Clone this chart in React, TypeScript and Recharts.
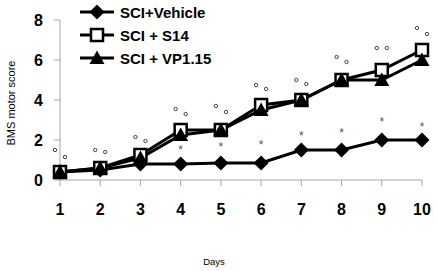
import React from 'react';
import { ComposedChart, Line, Scatter, XAxis, YAxis } from 'recharts';

const days = [1, 2, 3, 4, 5, 6, 7, 8, 9, 10];
const vehicle = [0.4, 0.5, 0.8, 0.8, 0.85, 0.85, 1.5, 1.5, 2.0, 2.0];
const s14 = [0.4, 0.6, 1.25, 2.5, 2.5, 3.75, 4.0, 5.0, 5.5, 6.5];
const vp115 = [0.4, 0.6, 1.1, 2.25, 2.5, 3.5, 4.0, 5.0, 5.0, 6.0];
const circA = [1.5, 1.5, 2.15, 3.55, 3.7, 4.75, 5.0, 6.15, 6.6, 7.6];
const circB = [1.15, 1.4, 1.95, 3.3, 3.4, 4.55, 4.8, 5.9, 6.6, 7.3];
const stars: (number | null)[] = [null, null, null, 1.65, 1.8, 1.9, 2.35, 2.5, 3.05, 2.8];
const yTicks = [0, 2, 4, 6, 8];
const seriesNames = ['SCI+Vehicle', 'SCI + S14', 'SCI + VP1.15'];
const xTitle = 'Days';
const yTitle = 'BMS motor score';

const data = days.map((d, i) => ({
  day: d,
  vehicle: vehicle[i],
  s14: s14[i],
  vp115: vp115[i],
  circA: circA[i],
  circB: circB[i],
  star: stars[i],
}));

const FONT = '"Liberation Sans", Arial, sans-serif';
const AXIS = '#a6a6a6';

const Diamond = ({ cx, cy }: any) => (
  <polygon points={`${cx},${cy - 7.5} ${cx + 7.5},${cy} ${cx},${cy + 7.5} ${cx - 7.5},${cy}`} fill="#000" />
);
const Square = ({ cx, cy }: any) => (
  <rect x={cx - 6} y={cy - 6} width={12} height={12} fill="#fff" stroke="#000" strokeWidth={2.5} />
);
const Triangle = ({ cx, cy }: any) => (
  <polygon points={`${cx},${cy - 7.5} ${cx + 7.5},${cy + 6} ${cx - 7.5},${cy + 6}`} fill="#000" />
);

const XTick = ({ x, y, payload }: any) => (
  <text x={x} y={y + 27} textAnchor="middle" fontFamily={FONT} fontWeight="bold" fontSize={16} fill="#000">
    {payload.value}
  </text>
);
const YTick = ({ x, y, payload }: any) => (
  <text x={x - 9} y={y + 6} textAnchor="end" fontFamily={FONT} fontWeight="bold" fontSize={16} fill="#000">
    {payload.value}
  </text>
);

const YLabel = () => (
  <text transform="translate(15,103) rotate(-90)" textAnchor="middle" fontFamily={FONT} fontSize={11} fill="#000">
    {yTitle}
  </text>
);
const XLabel = () => (
  <text x={214} y={265} textAnchor="middle" fontFamily={FONT} fontSize={9.5} fill="#000">
    {xTitle}
  </text>
);

const markers = [Diamond, Square, Triangle];

export default function App() {
  return (
    <div style={{ position: 'absolute', left: 0, top: 0, width: 437, height: 271, background: '#fff' }}>
      <ComposedChart width={437} height={271} data={data} margin={{ top: 20, right: 15, left: 0, bottom: 0 }}>
        <XAxis
          dataKey="day"
          type="number"
          domain={[1, 10]}
          ticks={days}
          height={91}
          stroke={AXIS}
          tickLine={{ stroke: AXIS }}
          tickSize={6}
          tick={<XTick />}
          label={<XLabel />}
        />
        <YAxis
          type="number"
          domain={[0, 8]}
          ticks={yTicks}
          width={60}
          stroke={AXIS}
          tickLine={{ stroke: AXIS }}
          tickSize={6}
          tick={<YTick />}
          label={<YLabel />}
        />
        <Line dataKey="vehicle" stroke="#000" strokeWidth={3} isAnimationActive={false}
          dot={(p: any) => <Diamond key={`v${p.index}`} cx={p.cx} cy={p.cy} />} />
        <Line dataKey="s14" stroke="#000" strokeWidth={3} isAnimationActive={false}
          dot={(p: any) => <Square key={`s${p.index}`} cx={p.cx} cy={p.cy} />} />
        <Line dataKey="vp115" stroke="#000" strokeWidth={3} isAnimationActive={false}
          dot={(p: any) => <Triangle key={`t${p.index}`} cx={p.cx} cy={p.cy} />} />
        <Scatter dataKey="circA" isAnimationActive={false}
          shape={(p: any) => <circle cx={p.cx - 5} cy={p.cy} r={1.7} fill="#fff" stroke="#444" strokeWidth={1} />} />
        <Scatter dataKey="circB" isAnimationActive={false}
          shape={(p: any) => <circle cx={p.cx + 5} cy={p.cy} r={1.7} fill="#fff" stroke="#444" strokeWidth={1} />} />
        <Scatter dataKey="star" isAnimationActive={false}
          shape={(p: any) => p.payload.star == null ? <g /> : (
            <text x={p.cx} y={p.cy + 7} textAnchor="middle" fontFamily={FONT} fontSize={12} fill="#555">*</text>
          )} />
      </ComposedChart>
      <svg width={230} height={72} style={{ position: 'absolute', left: 0, top: 0 }}>
        {seriesNames.map((name, i) => {
          const y = 12 + i * 23;
          const M = markers[i];
          return (
            <g key={name}>
              <line x1={80} x2={114} y1={y} y2={y} stroke="#000" strokeWidth={3} />
              <M cx={97} cy={y} />
              <text x={120} y={y + 5.5} fontFamily={FONT} fontWeight="bold" fontSize={15} fill="#000">{name}</text>
            </g>
          );
        })}
      </svg>
    </div>
  );
}
